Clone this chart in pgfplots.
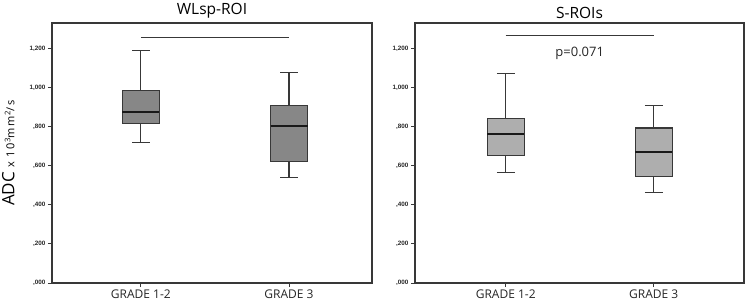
\documentclass[border=0pt]{standalone}
\usepackage{pgfplots}
\pgfplotsset{compat=1.18}
\usepgfplotslibrary{statistics}
\usepackage{fontspec}
\setmainfont{Open Sans}
\newfontfamily\tickfont{Liberation Sans}
\definecolor{boxA}{HTML}{878787}
\definecolor{boxB}{HTML}{AEAEAE}
\definecolor{edge}{HTML}{383838}
\begin{document}
\begin{tikzpicture}[x=1pt,y=1pt]
\path[use as bounding box] (0,0) rectangle (746,303);
\pgfplotsset{
  myax/.style={
    scale only axis,
    height=260pt,
    ymin=0, ymax=1.33,
    ytick={0,0.2,0.4,0.6,0.8,1.0,1.2},
    yticklabel style={font=\tickfont\fontsize{6.3}{7}\selectfont\bfseries, text=black!85, xshift=1pt},
    xtick={1,2},
    xticklabels={GRADE 1-2,GRADE 3},
    xticklabel style={font=\fontsize{12}{13}\selectfont, text=black!85, yshift=1pt},
    tick align=outside,
    tick pos=left,
    major tick length=4pt,
    axis line style={edge, line width=1.1pt},
    every tick/.style={edge, line width=1pt},
    title style={font=\fontsize{15.5}{17}\selectfont, yshift=-5pt},
    boxplot/draw direction=y,
    boxplot/box extend=0.25,
    boxplot/whisker extend=0.12,
    boxplot/every median/.style={black!90, line width=2pt},
    /pgf/number format/assume math mode=true,
  }
}
\begin{axis}[myax,
  at={(52pt,20pt)}, anchor=south west,
  width=320pt,
  xmin=0.40, xmax=2.56,
  title={WLsp-ROI},
  yticklabels={{,000},{,200},{,400},{,600},{,800},{1,000},{1,200}},
  ylabel={{\fontsize{17}{18}\selectfont ADC}{\fontsize{11}{12}\selectfont\addfontfeature{LetterSpace=15}\ x 10\textsuperscript{3}mm\textsuperscript{2}/s}},
  ylabel style={at={(axis description cs:0,0.5)}, anchor=south, yshift=34pt},
]
\addplot[boxplot prepared={draw position=1, lower whisker=0.720, lower quartile=0.814, median=0.875, upper quartile=0.984, upper whisker=1.191}, draw=edge, fill=boxA, line width=1.1pt] coordinates {};
\addplot[boxplot prepared={draw position=2, lower whisker=0.538, lower quartile=0.620, median=0.805, upper quartile=0.907, upper whisker=1.076}, draw=edge, fill=boxA, line width=1.1pt] coordinates {};
\addplot[edge, line width=1.1pt, no marks] coordinates {(1,1.258) (2,1.258)};
\end{axis}
\begin{axis}[myax,
  at={(415pt,20pt)}, anchor=south west,
  width=329pt,
  xmin=0.387, xmax=2.61,
  title={S-ROIs},
  yticklabels={{,000},{,200},{,400},{,600},{,800},{1,000},{1,200}},
]
\addplot[boxplot prepared={draw position=1, lower whisker=0.567, lower quartile=0.654, median=0.764, upper quartile=0.843, upper whisker=1.072}, draw=edge, fill=boxB, line width=1.1pt] coordinates {};
\addplot[boxplot prepared={draw position=2, lower whisker=0.465, lower quartile=0.545, median=0.672, upper quartile=0.793, upper whisker=0.909}, draw=edge, fill=boxB, line width=1.1pt] coordinates {};
\addplot[edge, line width=1.1pt, no marks] coordinates {(1,1.265) (2,1.265)};
\node[font=\fontsize{13}{15}\selectfont, text=black!85] at (axis cs:1.5,1.175) {p=0.071};
\end{axis}
\end{tikzpicture}
\end{document}
